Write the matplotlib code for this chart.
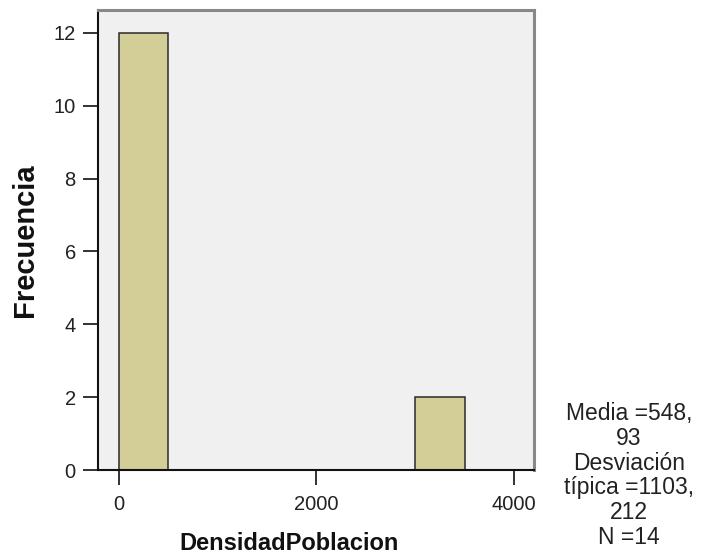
import numpy as np
import matplotlib
matplotlib.use('Agg')
import matplotlib.pyplot as plt

plt.rcParams['font.family'] = ['Liberation Sans', 'DejaVu Sans']

# datos del histograma (DensidadPoblacion)
bin_left = [0, 500, 1000, 1500, 2000, 2500, 3000]
bin_width = 500
counts = [12, 0, 0, 0, 0, 0, 2]
x_ticks = [0, 2000, 4000]
y_ticks = [0, 2, 4, 6, 8, 10, 12]
stats_text = 'Media =548,\n93\nDesviación\ntípica =1103,\n212\nN =14'

fig = plt.figure(figsize=(7.02, 5.60), dpi=100)
ax = fig.add_axes([98 / 702, 90 / 560, 436 / 702, 460 / 560])
ax.set_facecolor('#F0F0F0')

ax.bar(bin_left, counts, width=bin_width, align='edge',
       color='#D3CE97', edgecolor='#2a2a2a', linewidth=1.1, zorder=2)

ax.set_xlim(-213, 4203)
ax.set_ylim(0, 12.63)
ax.set_xticks(x_ticks)
ax.set_yticks(y_ticks)
ax.tick_params(axis='both', direction='out', length=11, width=1.3,
               colors='#222222', labelsize=14.5)
ax.tick_params(axis='x', pad=7)
ax.tick_params(axis='y', pad=5)

for side in ['left', 'bottom']:
    ax.spines[side].set_color('#111111')
    ax.spines[side].set_linewidth(1.5)
for side in ['top', 'right']:
    ax.spines[side].set_color('#888888')
    ax.spines[side].set_linewidth(2.2)

ax.set_xlabel('DensidadPoblacion', fontsize=17, fontweight='bold', color='#111111')
ax.xaxis.set_label_coords(0.438, -0.135)
ax.set_ylabel('Frecuencia', fontsize=21, fontweight='bold', color='#111111')
ax.yaxis.set_label_coords(-0.135, 0.5)

fig.text(629 / 702, 1 - 402 / 560, stats_text, ha='center', va='top',
         fontsize=16.5, color='#222222', linespacing=1.1)

fig.savefig('out.png', dpi=100)
